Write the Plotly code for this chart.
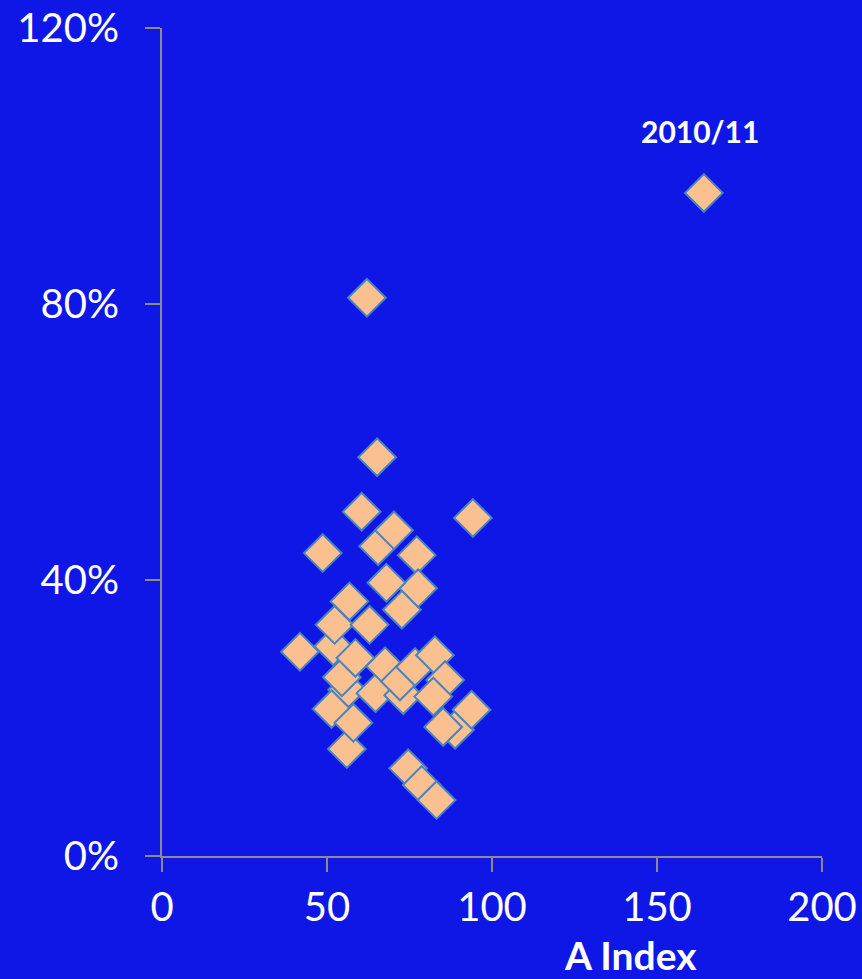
import plotly.graph_objects as go

# A Index values (x) and percentage values (y, in %)
a_index = [164.2, 62.1, 65.2, 60.5, 94.2, 48.7, 65.5, 70.3, 77.2, 68.0,
           77.6, 72.7, 56.8, 52.3, 62.9, 41.8, 51.9, 58.6, 54.5, 56.1,
           51.4, 58.0, 56.0, 64.7, 67.6, 72.1, 76.7, 82.7, 85.8, 82.2,
           73.1, 93.8, 85.2, 88.8, 74.6, 78.7, 83.2]
pct = [96.1, 80.9, 57.8, 49.9, 49.0, 43.9, 44.9, 47.2, 43.6, 39.6,
       38.8, 35.7, 36.9, 33.5, 33.5, 29.6, 30.4, 28.7, 25.9, 24.1,
       21.3, 19.3, 15.5, 23.6, 27.5, 25.3, 27.4, 29.1, 25.5, 23.1,
       23.3, 21.2, 18.7, 18.3, 12.7, 10.3, 8.1]
# draw order: back to front roughly as in the reference
order = [0, 1, 2, 3, 4, 5, 6, 7, 8, 10, 9, 11, 12, 16, 13, 14, 15, 19, 18, 17,
         20, 22, 21, 23, 24, 30, 25, 26, 27, 28, 29, 33, 32, 31, 34, 35, 36]
label_text = "2010/11"
x_ticks = [0, 50, 100, 150, 200]
y_ticks = [0, 40, 80, 120]
y_tick_labels = ["0%", "40%", "80%", "120%"]
x_title = "A Index"

BG = "#0E17E6"
AXIS = "#8C8C8C"
FONT = "Lato"

xs = [a_index[i] for i in order]
ys = [pct[i] for i in order]

fig = go.Figure()
fig.add_trace(go.Scatter(
    x=xs, y=ys, mode="markers",
    marker=dict(symbol="diamond", size=29, color="#FAC090",
                line=dict(color="#4A82BE", width=2)),
    hoverinfo="skip", showlegend=False,
))

imax = pct.index(max(pct))
fig.add_annotation(x=a_index[imax], y=pct[imax], text="<b>" + label_text + "</b>",
                   showarrow=False, xshift=-4, yshift=62,
                   font=dict(family=FONT, size=30, color="white"))
fig.add_annotation(xref="paper", yref="paper", x=0.71, y=0, yshift=-123,
                   xanchor="center", yanchor="bottom", borderpad=0,
                   text="<b>" + x_title + "</b>", showarrow=False,
                   font=dict(family=FONT, size=39, color="white"))

fig.update_layout(
    width=862, height=979,
    margin=dict(l=162, r=40, t=28, b=123, autoexpand=False),
    paper_bgcolor=BG, plot_bgcolor=BG,
    font=dict(family=FONT, color="white", size=40),
    xaxis=dict(range=[0, 200], tickvals=x_ticks, showgrid=False, zeroline=False,
               automargin=False,
               showline=True, linecolor=AXIS, linewidth=2,
               ticks="outside", ticklen=14, tickcolor=AXIS, tickwidth=2,
               ticklabelstandoff=1,
               tickfont=dict(family=FONT, size=40, color="white")),
    yaxis=dict(range=[0, 120], tickvals=y_ticks, ticktext=y_tick_labels,
               showgrid=False, zeroline=False, automargin=False,
               showline=True, linecolor=AXIS, linewidth=2,
               ticks="outside", ticklen=15, tickcolor=AXIS, tickwidth=2,
               ticklabelstandoff=18,
               tickfont=dict(family=FONT, size=40, color="white")),
)

fig.write_html("out.html", config={"displayModeBar": False},
               post_script="document.body.style.margin='0';document.body.style.padding='0';"
                           "document.body.style.overflow='hidden';")
